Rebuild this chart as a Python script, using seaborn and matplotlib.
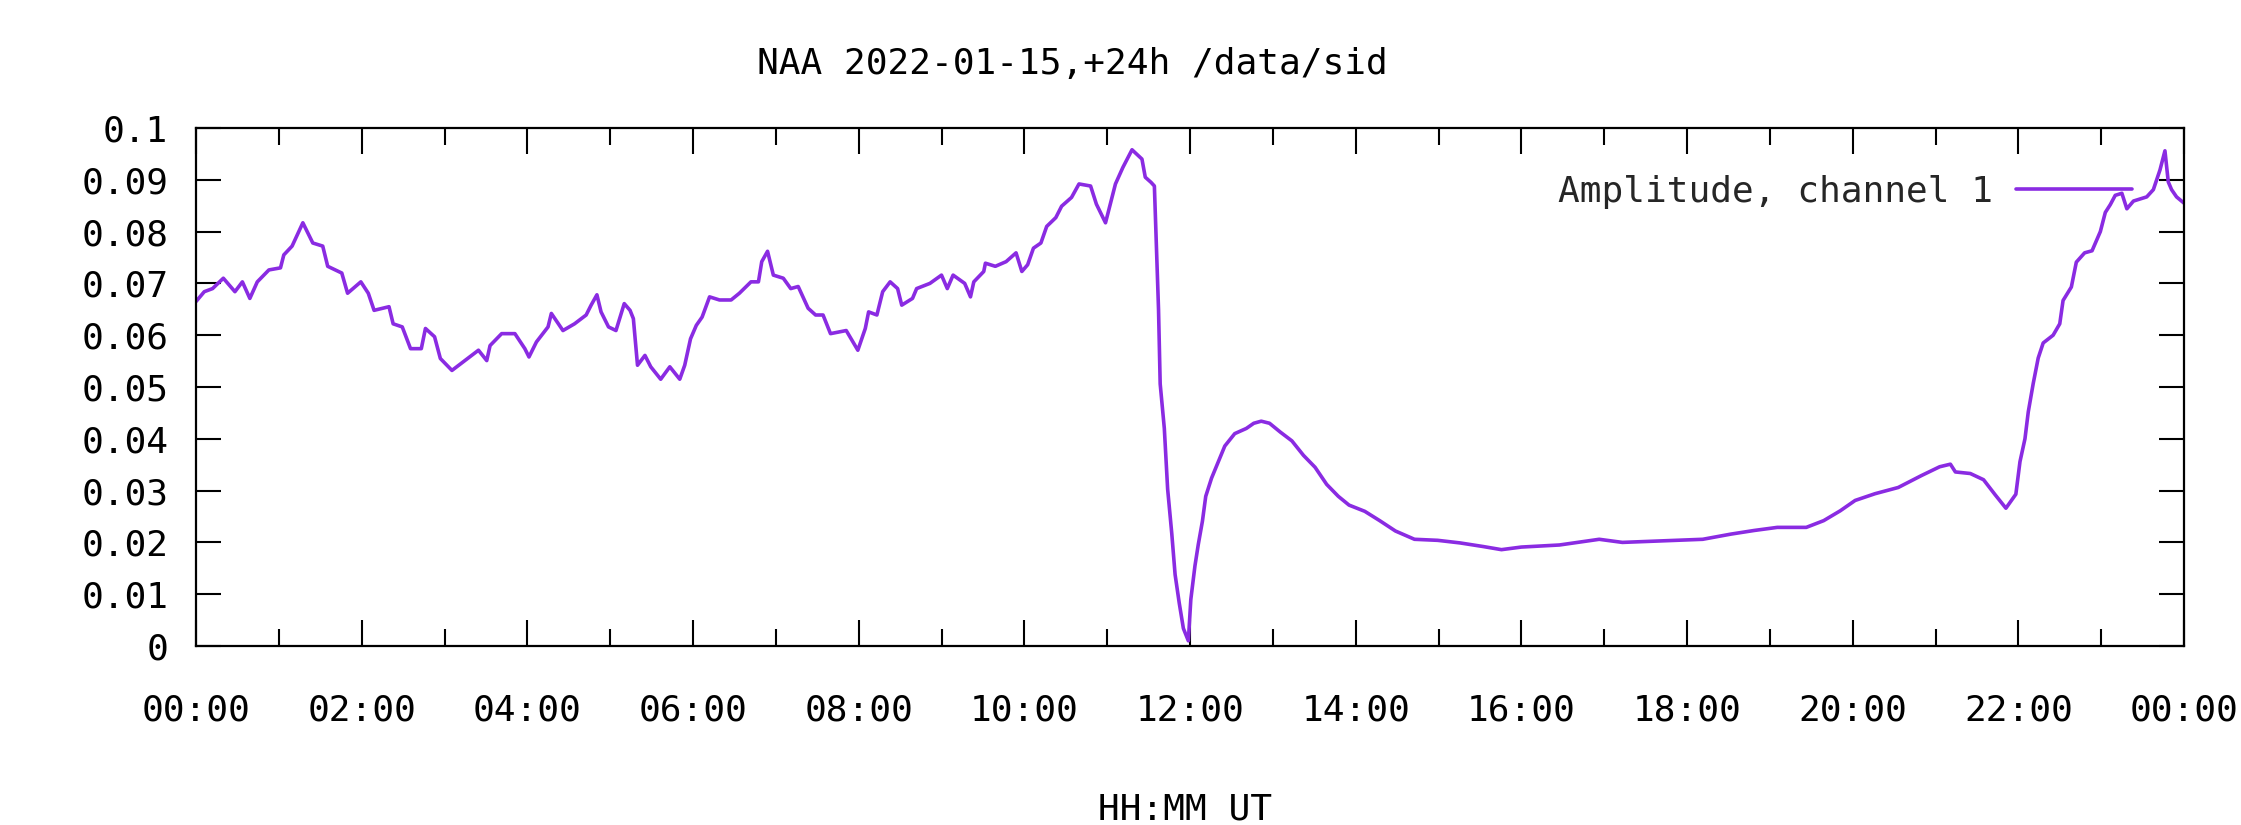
import matplotlib
matplotlib.use("Agg")
import matplotlib.pyplot as plt
import seaborn as sns
import numpy as np
import pandas as pd
from matplotlib.ticker import MultipleLocator

# ---- data ----
hours = [
    0.00, 0.10, 0.20, 0.33, 0.47, 0.56, 0.65, 0.74, 0.88, 1.02, 1.06, 1.16, 1.29, 1.41, 1.53, 1.59,
    1.76, 1.83, 1.99, 2.08, 2.15, 2.33, 2.38, 2.49, 2.59, 2.72, 2.77, 2.88, 2.95, 3.09, 3.28, 3.41,
    3.51, 3.55, 3.69, 3.85, 3.97, 4.02, 4.11, 4.25, 4.29, 4.43, 4.57, 4.71, 4.77, 4.84, 4.89, 4.98,
    5.07, 5.17, 5.24, 5.28, 5.33, 5.42, 5.49, 5.61, 5.72, 5.84, 5.90, 5.97, 6.04, 6.11, 6.20, 6.32,
    6.46, 6.56, 6.70, 6.79, 6.83, 6.90, 6.97, 7.09, 7.18, 7.27, 7.39, 7.48, 7.57, 7.66, 7.85, 7.92,
    7.99, 8.08, 8.12, 8.22, 8.29, 8.38, 8.47, 8.52, 8.65, 8.70, 8.86, 9.00, 9.07, 9.14, 9.28, 9.35,
    9.39, 9.51, 9.53, 9.65, 9.78, 9.90, 9.97, 10.04, 10.11, 10.20, 10.27, 10.38, 10.45, 10.57, 10.66,
    10.80, 10.87, 10.98, 11.10, 11.19, 11.30, 11.42, 11.46, 11.53, 11.57, 11.59, 11.62, 11.64, 11.69,
    11.73, 11.78, 11.82, 11.87, 11.92, 11.98, 12.01, 12.06, 12.10, 12.15, 12.19, 12.26, 12.33, 12.42,
    12.54, 12.68, 12.77, 12.86, 12.96, 13.09, 13.23, 13.37, 13.51, 13.65, 13.79, 13.92, 14.11, 14.29,
    14.48, 14.71, 14.99, 15.26, 15.54, 15.76, 16.00, 16.46, 16.94, 17.22, 18.19, 18.53, 18.81, 19.09,
    19.44, 19.65, 19.85, 20.03, 20.27, 20.55, 20.83, 21.05, 21.18, 21.24, 21.42, 21.58, 21.72, 21.85,
    21.97, 22.02, 22.08, 22.12, 22.18, 22.24, 22.30, 22.42, 22.50, 22.54, 22.64, 22.70, 22.80, 22.89,
    22.95, 22.99, 23.05, 23.11, 23.17, 23.25, 23.31, 23.39, 23.55, 23.63, 23.71, 23.77, 23.81, 23.85,
    23.91, 23.97, 24.00,
]
amplitude = [
    0.0665, 0.0684, 0.0690, 0.0710, 0.0684, 0.0703, 0.0671, 0.0703, 0.0726, 0.0730, 0.0755, 0.0772, 0.0817, 0.0778, 0.0772, 0.0733,
    0.0720, 0.0681, 0.0703, 0.0681, 0.0648, 0.0655, 0.0622, 0.0616, 0.0574, 0.0574, 0.0613, 0.0597, 0.0555, 0.0532, 0.0555, 0.0571,
    0.0551, 0.0580, 0.0603, 0.0603, 0.0574, 0.0558, 0.0587, 0.0616, 0.0642, 0.0609, 0.0622, 0.0639, 0.0658, 0.0678, 0.0645, 0.0616,
    0.0609, 0.0661, 0.0648, 0.0632, 0.0542, 0.0561, 0.0539, 0.0515, 0.0539, 0.0515, 0.0542, 0.0593, 0.0619, 0.0635, 0.0674, 0.0668,
    0.0668, 0.0681, 0.0703, 0.0703, 0.0742, 0.0762, 0.0716, 0.0710, 0.0690, 0.0694, 0.0652, 0.0639, 0.0639, 0.0603, 0.0609, 0.0590,
    0.0571, 0.0613, 0.0645, 0.0639, 0.0684, 0.0703, 0.0690, 0.0658, 0.0671, 0.0690, 0.0700, 0.0716, 0.0690, 0.0716, 0.0700, 0.0674,
    0.0703, 0.0723, 0.0739, 0.0733, 0.0742, 0.0759, 0.0723, 0.0736, 0.0768, 0.0778, 0.0810, 0.0827, 0.0849, 0.0866, 0.0892,
    0.0888, 0.0853, 0.0817, 0.0892, 0.0924, 0.0958, 0.0940, 0.0905, 0.0895, 0.0888, 0.0795, 0.0650, 0.0506, 0.0420,
    0.0303, 0.0217, 0.0138, 0.0083, 0.0034, 0.0010, 0.0090, 0.0155, 0.0196, 0.0241, 0.0289, 0.0324, 0.0351, 0.0386,
    0.0410, 0.0420, 0.0430, 0.0434, 0.0430, 0.0413, 0.0396, 0.0368, 0.0345, 0.0312, 0.0289, 0.0272, 0.0260, 0.0242,
    0.0222, 0.0206, 0.0204, 0.0199, 0.0192, 0.0186, 0.0191, 0.0195, 0.0206, 0.0200, 0.0206, 0.0216, 0.0223, 0.0229,
    0.0229, 0.0242, 0.0261, 0.0281, 0.0294, 0.0306, 0.0329, 0.0346, 0.0351, 0.0336, 0.0333, 0.0321, 0.0292, 0.0266,
    0.0293, 0.0356, 0.0400, 0.0452, 0.0507, 0.0556, 0.0585, 0.0600, 0.0622, 0.0667, 0.0693, 0.0741, 0.0759, 0.0763,
    0.0785, 0.0800, 0.0837, 0.0852, 0.0870, 0.0874, 0.0844, 0.0859, 0.0867, 0.0881, 0.0919, 0.0956, 0.0896, 0.0881,
    0.0867, 0.0859, 0.0855,
]
series_label = "Amplitude, channel 1"
title_text = "NAA 2022-01-15,+24h /data/sid"
xlabel_text = "HH:MM UT"
y_ticks = [0.0, 0.01, 0.02, 0.03, 0.04, 0.05, 0.06, 0.07, 0.08, 0.09, 0.1]
y_tick_labels = ["0", "0.01", "0.02", "0.03", "0.04", "0.05", "0.06", "0.07", "0.08", "0.09", "0.1"]
x_major = [0, 2, 4, 6, 8, 10, 12, 14, 16, 18, 20, 22, 24]
x_tick_labels = ["00:00", "02:00", "04:00", "06:00", "08:00", "10:00", "12:00",
                 "14:00", "16:00", "18:00", "20:00", "22:00", "00:00"]

df = pd.DataFrame({"hour": hours, "amp": amplitude})

# ---- style ----
sns.set_theme(style="ticks")
plt.rcParams["font.family"] = ["DejaVu Sans Mono", "DejaVu Sans"]
FS = 26
W, H = 2241, 825
fig = plt.figure(figsize=(W / 100, H / 100), dpi=100)
fig.patch.set_facecolor("white")
L, R, T, B = 196, 2184, 128, 646
ax = fig.add_axes([L / W, (H - B) / H, (R - L) / W, (B - T) / H])
ax.set_facecolor("white")

line_color = "#8a2be2"
sns.lineplot(data=df, x="hour", y="amp", ax=ax, color=line_color, linewidth=2.6,
             label=series_label, estimator=None, sort=False)

ax.set_xlim(0, 24)
ax.set_ylim(0, 0.1)
ax.set_xticks(x_major)
ax.set_xticklabels(x_tick_labels)
ax.xaxis.set_minor_locator(MultipleLocator(1))
ax.set_yticks(y_ticks)
ax.set_yticklabels(y_tick_labels)
ax.set_xlabel("")
ax.set_ylabel("")

for sp in ax.spines.values():
    sp.set_visible(True)
    sp.set_linewidth(1.6)
    sp.set_color("black")

ax.tick_params(axis="both", which="both", direction="in", top=True, right=True,
               colors="black", labelsize=FS, width=1.5)
ax.tick_params(axis="x", which="major", length=19, pad=34)
ax.tick_params(axis="x", which="minor", length=12)
ax.tick_params(axis="y", which="major", length=18, pad=20)
ax.tick_params(axis="y", which="minor", length=0)

leg = ax.legend(loc="center right",
                bbox_to_anchor=((2132 - L) / (R - L), (B - 192) / (B - T)),
                frameon=False, fontsize=FS, markerfirst=False,
                handlelength=3.2, handletextpad=0.65, borderpad=0, borderaxespad=0)

fig.text(1072 / W, 1 - 64 / H, title_text, ha="center", va="center", fontsize=FS, color="black")
fig.text(1185 / W, 1 - 810 / H, xlabel_text, ha="center", va="center", fontsize=FS, color="black")

fig.savefig("out.png", dpi=100, facecolor="white")
